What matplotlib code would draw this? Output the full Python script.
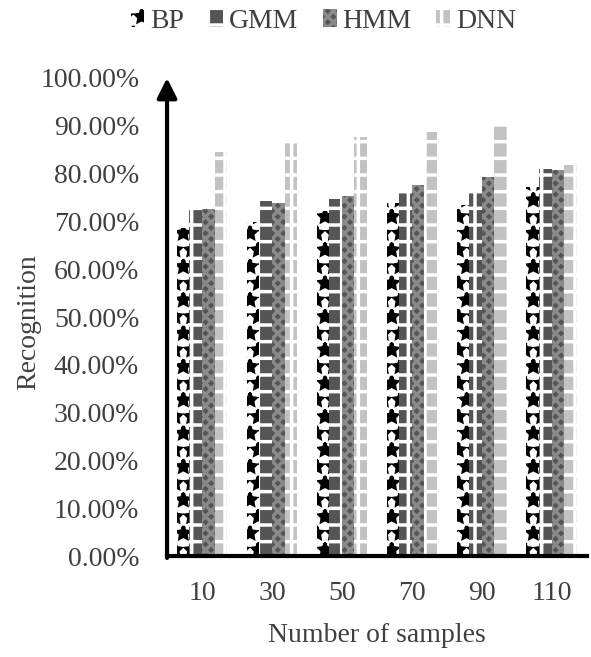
import numpy as np
import matplotlib.pyplot as plt
from matplotlib.ticker import PercentFormatter

plt.rcParams['font.family'] = ['Liberation Serif', 'DejaVu Serif']
plt.rcParams['hatch.linewidth'] = 2.5

samples = ['10', '30', '50', '70', '90', '110']
bp = [68.6, 69.9, 72.2, 73.8, 73.5, 77.2]
gmm = [72.6, 74.2, 74.6, 76.4, 76.6, 81.0]
hmm = [72.6, 73.9, 75.4, 77.6, 79.2, 80.8]
dnn = [84.6, 86.4, 87.6, 88.8, 90.0, 81.8]

series = [
    ('BP', bp, 'white', 'black', '*'),
    ('GMM', gmm, '#555555', 'white', '+'),
    ('HMM', hmm, '#555555', '#8a8a8a', 'xxx'),
    ('DNN', dnn, '#c2c2c2', 'white', '+'),
]

text_color = '#404040'
fig = plt.figure(figsize=(5.91, 6.57), dpi=100)
ax = fig.add_axes([0.2826, 0.1537, 0.71, 0.7276])

x = np.arange(len(samples))
width = 0.18
for i, (name, vals, face, hatch_col, hatch) in enumerate(series):
    ax.bar(x + (i - 1.5) * width, vals, width, color=face, edgecolor=hatch_col,
           hatch=hatch, linewidth=0, label=name)

ax.set_xlim(-0.5, len(samples) - 0.5)
ax.set_ylim(0, 100)
ax.set_yticks(np.arange(0, 101, 10))
ax.yaxis.set_major_formatter(PercentFormatter(decimals=2))
ax.set_xticks(x)
ax.set_xticklabels(samples)
ax.tick_params(length=0, labelsize=20, colors=text_color)
ax.tick_params(axis='y', pad=20)
ax.tick_params(axis='x', pad=18)

for side in ['top', 'right', 'left']:
    ax.spines[side].set_visible(False)
ax.spines['bottom'].set_linewidth(3)
ax.spines['bottom'].set_color('black')

# y axis drawn as an arrow
ax.annotate('', xy=(0, 1.0), xytext=(0, -0.004), xycoords='axes fraction',
            arrowprops=dict(arrowstyle='-|>', lw=3, color='black',
                            mutation_scale=30, shrinkA=0, shrinkB=0))

ax.set_xlabel('Number of samples', fontsize=20, color=text_color, labelpad=12)
ax.set_ylabel('Recognition', fontsize=20, color=text_color)
ax.yaxis.set_label_coords(-0.30, 0.49)

fig.legend(loc='upper center', bbox_to_anchor=(0.547, 1.025), ncol=4, frameon=False,
           fontsize=20, labelcolor=text_color, handlelength=0.5, handleheight=0.6,
           handletextpad=0.2, columnspacing=0.9)

fig.savefig('out.png', dpi=100)
